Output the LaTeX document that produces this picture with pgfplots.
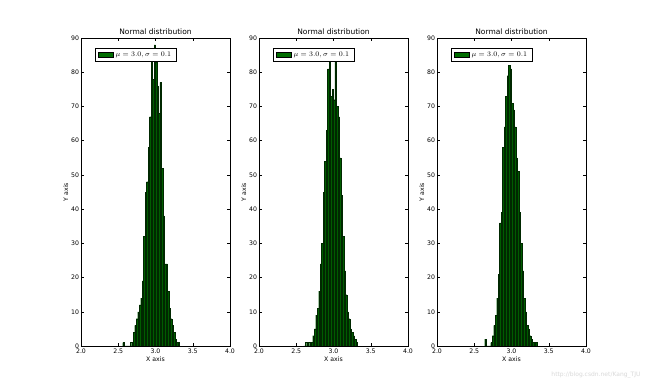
\documentclass[border=0pt]{standalone}
\usepackage{fontspec}
\setmainfont{DejaVu Sans}
\usepackage{pgfplots}
\pgfplotsset{compat=1.18}
\definecolor{mplgreen}{RGB}{0,128,0}
\definecolor{bargreen}{RGB}{0,92,0}
\definecolor{edgegreen}{RGB}{0,40,0}

\pgfplotsset{
  histax/.style={
    scale only axis,
    width=149pt, height=308pt,
    anchor=south west,
    xmin=2.0, xmax=4.0, ymin=0, ymax=90,
    xtick={2.0,2.5,3.0,3.5,4.0},
    xticklabels={2.0,2.5,3.0,3.5,4.0},
    ytick={0,10,...,90},
    tick align=inside,
    major tick length=3pt,
    axis line style={black, line width=0.6pt},
    tick style={black, line width=0.5pt},
    /pgf/number format/assume math mode=true,
    tick label style={font=\fontsize{6.2}{7}\selectfont},
    xticklabel style={yshift=0.5pt},
    yticklabel style={xshift=1.5pt},
    label style={font=\fontsize{6.2}{7}\selectfont},
    xlabel={X axis}, ylabel={Y axis},
    xlabel style={yshift=4pt},
    ylabel style={yshift=-4pt},
    title={Normal distribution},
    title style={font=\fontsize{7.5}{8.5}\selectfont, yshift=-6pt},
    legend style={at={(0.094,0.968)}, anchor=north west,
      font=\fontsize{7.5}{8.5}\selectfont, draw=black, line width=0.5pt,
      inner xsep=3pt, inner ysep=1.5pt, row sep=0pt, cells={anchor=west}},
    legend cell align=left,
  },
  histbar/.style={ybar interval, fill=bargreen, draw=edgegreen, line width=0.2pt,
    legend image code/.code={\draw[fill=mplgreen!85!black, draw=black, line width=0.3pt] (0pt,-2.5pt) rectangle (15pt,2.5pt);}},
}

\pgfplotstableread{
x y
2.56 1
2.58 0
2.60 0
2.62 0
2.64 0
2.66 1
2.68 0
2.70 4
2.72 6
2.74 8
2.76 10
2.78 12
2.80 14
2.82 19
2.84 32
2.86 45
2.88 48
2.90 58
2.92 67
2.94 83
2.96 78
2.98 88
3.00 83
3.02 76
3.04 68
3.06 77
3.08 52
3.10 38
3.12 24
3.14 24
3.16 16
3.18 11
3.20 8
3.22 6
3.24 4
3.26 2
3.28 1
3.30 1
3.32 0
}\histA

\pgfplotstableread{
x y
2.60 0
2.62 1
2.64 0
2.66 1
2.68 0
2.70 1
2.72 3
2.74 5
2.76 9
2.78 11
2.80 16
2.82 24
2.84 30
2.86 45
2.88 54
2.90 63
2.92 81
2.94 86
2.96 73
2.98 75
3.00 72
3.02 86
3.04 70
3.06 67
3.08 55
3.10 44
3.12 32
3.14 22
3.16 15
3.18 10
3.20 8
3.22 5
3.24 4
3.26 3
3.28 2
3.30 1
3.32 0
}\histB

\pgfplotstableread{
x y
2.64 2
2.66 0
2.68 0
2.70 0
2.72 1
2.74 3
2.76 6
2.78 9
2.80 14
2.82 21
2.84 36
2.86 39
2.88 58
2.90 64
2.92 73
2.94 79
2.96 82
2.98 81
3.00 71
3.02 69
3.04 64
3.06 55
3.08 51
3.10 39
3.12 30
3.14 22
3.16 14
3.18 10
3.20 6
3.22 5
3.24 3
3.26 2
3.28 1
3.30 0
3.32 1
3.34 0
}\histC

\begin{document}
\begin{tikzpicture}
\path[use as bounding box, fill=white] (0pt,0pt) rectangle (650pt,385pt);

\begin{axis}[histax, at={(81pt,39pt)}]
\addplot[histbar] table[x=x,y=y] {\histA};
\addlegendentry{$\mu=3.0, \sigma=0.1$}
\end{axis}

\begin{axis}[histax, at={(259pt,39pt)}]
\addplot[histbar] table[x=x,y=y] {\histB};
\addlegendentry{$\mu=3.0, \sigma=0.1$}
\end{axis}

\begin{axis}[histax, at={(437pt,39pt)}]
\addplot[histbar] table[x=x,y=y] {\histC};
\addlegendentry{$\mu=3.0, \sigma=0.1$}
\end{axis}

\node[anchor=east, text=black!15, font=\fontsize{6}{7}\selectfont] at (644pt,10pt) {http://blog.csdn.net/Kang\_TJU};
\end{tikzpicture}
\end{document}
